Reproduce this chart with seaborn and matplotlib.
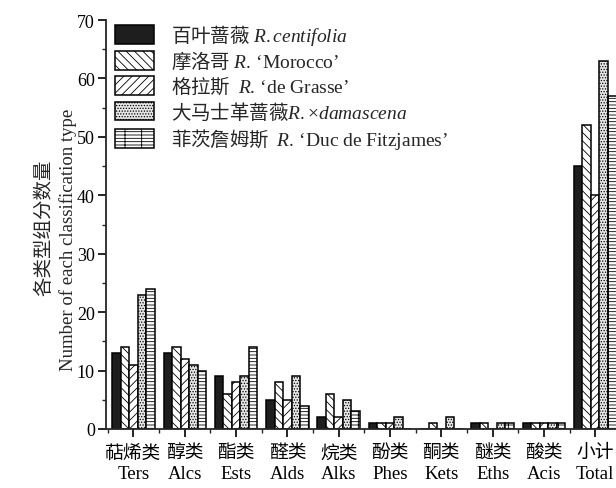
import numpy as np
import pandas as pd
import matplotlib
matplotlib.use("Agg")
import matplotlib.pyplot as plt
from matplotlib.ticker import MultipleLocator, FixedLocator
import seaborn as sns

categories = ['萜烯类\nTers', '醇类\nAlcs', '酯类\nEsts', '醛类\nAlds', '烷类\nAlks',
              '酚类\nPhes', '酮类\nKets', '醚类\nEths', '酸类\nAcis', '小计\nTotal']
centifolia = [13, 13, 9, 5, 2, 1, 0, 1, 1, 45]
morocco = [14, 14, 6, 8, 6, 1, 1, 1, 1, 52]
grasse = [11, 12, 8, 5, 2, 1, 0, 0, 1, 40]
damascena = [23, 11, 9, 9, 5, 2, 2, 1, 1, 63]
fitzjames = [24, 10, 14, 4, 3, 0, 0, 1, 1, 57]

series_labels = [
    r'百叶蔷薇 $\mathit{R.centifolia}$',
    r'摩洛哥 $\mathit{R.}\,\mathrm{‘Morocco’}$',
    r'格拉斯  $\mathit{R.}\,\mathrm{‘de\ Grasse’}$',
    r'大马士革蔷薇$\mathit{R.}\mathrm{×}\mathit{damascena}$',
    r'菲茨詹姆斯  $\mathit{R.}\,\mathrm{‘Duc\ de\ Fitzjames’}$',
]
series_values = [centifolia, morocco, grasse, damascena, fitzjames]

rows = []
for lab, vals in zip(series_labels, series_values):
    for c, v in zip(categories, vals):
        rows.append({'cat': c, 'value': v, 'series': lab})
df = pd.DataFrame(rows)

sns.set_style('ticks')
plt.rcParams['font.family'] = ['Liberation Serif', 'Noto Sans CJK SC']
plt.rcParams['mathtext.fontset'] = 'custom'
plt.rcParams['mathtext.rm'] = 'Liberation Serif'
plt.rcParams['mathtext.it'] = 'Liberation Serif:italic'
plt.rcParams['hatch.linewidth'] = 0.6

fig = plt.figure(figsize=(6.16, 4.89), dpi=100)
ax = fig.add_axes([106 / 616, 1 - 430 / 489, 1 - 106 / 616, (430 - 21) / 489])

sns.barplot(data=df, x='cat', y='value', hue='series', order=categories,
            hue_order=series_labels, width=0.83, gap=0, dodge=True,
            palette=['white'] * 5, edgecolor='black', linewidth=1.1,
            saturation=1, legend=False, ax=ax)

faces = ['#1e1e1e', 'white', 'white', '#e6e6e6', 'white']
hatches = [None, '\\\\\\\\', '////', '......', '-----|']
for cont, fc, h in zip(ax.containers, faces, hatches):
    for p in cont.patches:
        p.set_facecolor(fc)
        p.set_edgecolor('black')
        if h:
            p.set_hatch(h)

ax.set_xlim(-0.536, 9.405)
ax.set_ylim(0, 70)
ax.yaxis.set_major_locator(MultipleLocator(10))
ax.yaxis.set_minor_locator(MultipleLocator(5))
ax.xaxis.set_minor_locator(FixedLocator(np.arange(-0.5, 9.6, 1)))
ax.set_xlabel('')
ax.set_ylabel('')

for s in ['top', 'right']:
    ax.spines[s].set_visible(False)
for s in ['left', 'bottom']:
    ax.spines[s].set_linewidth(1.3)

ax.tick_params(axis='both', which='major', direction='out', length=6, width=1.2,
               colors='black')
ax.tick_params(axis='both', which='minor', direction='out', length=3, width=1.0)
ax.tick_params(axis='y', which='major', labelsize=13, pad=2)
ax.tick_params(axis='x', which='major', labelsize=13.5, pad=5)
for t in ax.get_xticklabels():
    t.set_linespacing(1.25)

fig.text(44 / 616, 1 - 228 / 489, '各类型组分数量', rotation=90, ha='center',
         va='center', fontsize=14)
fig.text(68 / 616, 1 - 240 / 489, 'Number of each classification type', rotation=90,
         ha='center', va='center', fontsize=13.5)

ax.legend(ax.containers, series_labels, loc='upper left',
          bbox_to_anchor=(7 / 510, 1.0), frameon=False,
          prop={'family': 'Noto Sans CJK SC', 'size': 14},
          handlelength=2.0, handleheight=1.1, labelspacing=0.17,
          handletextpad=0.9, borderaxespad=0.0, borderpad=0.1)

fig.savefig('out.png', dpi=100)
